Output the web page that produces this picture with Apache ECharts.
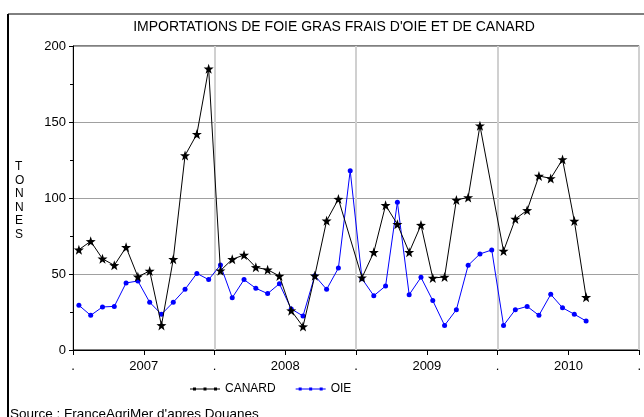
<!DOCTYPE html>
<html>
<head>
<meta charset="utf-8">
<script src="https://cdn.jsdelivr.net/npm/echarts@6/dist/echarts.min.js"></script>
<style>
  html, body { margin: 0; padding: 0; background: #fff; }
  #main { width: 644px; height: 417px; }
</style>
</head>
<body>
<div id="main"></div>
<script>
var chartDom = document.getElementById('main');
var myChart = echarts.init(chartDom);
var option;

// monthly values, Jan 2007 -> Aug 2010 (null = no point)
var canard = [66, 71.5, 60, 55.7, 67.6, 48.2, 52, 16.2, 59.7, 128, 142, 185,
              52.2, 59.7, 62.5, 54.4, 52.8, 48.7, 25.9, 15.4, 48.9, 85, 99.3, null,
              47.6, 64.3, 95.2, 82.7, 64.3, 82.2, 47.4, 48, 98.7, 100.4, 147.6, null,
              65.1, 86.2, 91.9, 114.5, 112.9, 125.4, 84.9, 34.7];
var oie = [29.4, 22.8, 28.3, 28.7, 44.1, 45.4, 31.4, 23.5, 31.4, 39.9, 50.4, 46.3,
           55.9, 34.4, 46.3, 40.6, 37.1, 43.6, 27, 22.4, 48.9, 39.9, 53.9, 118,
           46.9, 35.7, 42.1, 97.2, 36.4, 47.8, 32.5, 16.2, 26.5, 55.7, 63.2, 65.8,
           16.2, 26.5, 28.7, 22.8, 36.6, 27.8, 23.5, 19.1];
var xLabels = ['.', '2007', '.', '2008', '.', '2009', '.', '2010', '.'];

function toPoints(arr) {
    // each month drawn at its middle
    return arr.map(function (v, i) { return [i + 0.5, v]; });
}

var font = 'Liberation Sans';
// legend key: thin line with three dots
var legendIcon = 'path://M0,4.5 L30,4.5 L30,5.5 L0,5.5 Z M3,3.5 h3 v3 h-3 Z M13.5,3.5 h3 v3 h-3 Z M24,3.5 h3 v3 h-3 Z';

option = {
    animation: false,
    textStyle: { fontFamily: font },
    title: {
        text: "IMPORTATIONS DE FOIE GRAS FRAIS D'OIE ET DE CANARD",
        left: 329,
        textAlign: 'center',
        top: 15,
        textStyle: { fontSize: 14, fontWeight: 'normal', color: '#000', fontFamily: font }
    },
    legend: {
        top: 378,
        left: 185,
        itemWidth: 30,
        itemHeight: 10,
        itemGap: 20,
        textStyle: { fontSize: 12, color: '#000' },
        data: [{ name: 'CANARD', icon: legendIcon }, { name: 'OIE', icon: legendIcon }]
    },
    graphic: [
        { type: 'line', shape: { x1: 8, y1: 14, x2: 8, y2: 417 }, style: { stroke: '#000', lineWidth: 2 } },
        { type: 'line', shape: { x1: 8, y1: 14, x2: 644, y2: 14 }, style: { stroke: '#000', lineWidth: 1 } },
        { type: 'text', left: 15, top: 160, style: { text: 'T\nO\nN\nN\nE\nS', font: '12px ' + font, fill: '#000', lineHeight: 13.5, align: 'center' } },
        { type: 'text', left: 10, top: 407, style: { text: "Source : FranceAgriMer d'apres Douanes", font: '13.5px ' + font, fill: '#000' } }
    ],
    grid: {
        left: 73,
        right: 3,
        top: 46,
        bottom: 67,
        show: true,
        borderColor: '#000',
        borderWidth: 1
    },
    xAxis: [{
        type: 'value',
        min: 0,
        max: 48,
        interval: 6,
        axisLine: { lineStyle: { color: '#000' } },
        axisTick: { show: true, length: 5, lineStyle: { color: '#000' } },
        axisLabel: {
            color: '#000',
            fontSize: 13,
            margin: 10,
            showMinLabel: true,
            showMaxLabel: true,
            formatter: function (v) { return xLabels[Math.round(v / 6)]; }
        },
        splitLine: { show: false }
    }, {
        type: 'value',
        min: 0,
        max: 48,
        interval: 12,
        show: true,
        position: 'bottom',
        axisLine: { show: false },
        axisTick: { show: false },
        axisLabel: { show: false },
        splitLine: { show: true, lineStyle: { color: '#d0d0d0', width: 2 } }
    }],
    yAxis: {
        type: 'value',
        min: 0,
        max: 200,
        interval: 50,
        axisLine: { show: true, lineStyle: { color: '#000' } },
        axisTick: { show: true, length: 4, lineStyle: { color: '#000' } },
        minorTick: { show: true, splitNumber: 2, length: 3, lineStyle: { color: '#000' } },
        axisLabel: { color: '#000', fontSize: 13, margin: 7 },
        splitLine: { show: true, lineStyle: { color: '#a0a0a0', width: 1 } }
    },
    series: [{
        name: 'CANARD',
        type: 'line',
        data: toPoints(canard),
        connectNulls: true,
        symbol: 'path://M0,-10 L2.35,-3.24 L9.51,-3.09 L3.8,1.24 L5.88,8.09 L0,4 L-5.88,8.09 L-3.8,1.24 L-9.51,-3.09 L-2.35,-3.24 Z',
        symbolSize: 10,
        color: '#000',
        lineStyle: { color: '#000', width: 1 },
        itemStyle: { color: '#000' },
        z: 3
    }, {
        name: 'OIE',
        type: 'line',
        data: toPoints(oie),
        symbol: 'circle',
        symbolSize: 5,
        color: '#0000ff',
        lineStyle: { color: '#0000ff', width: 1 },
        itemStyle: { color: '#0000ff' },
        z: 2
    }]
};

option && myChart.setOption(option);
</script>
</body>
</html>
